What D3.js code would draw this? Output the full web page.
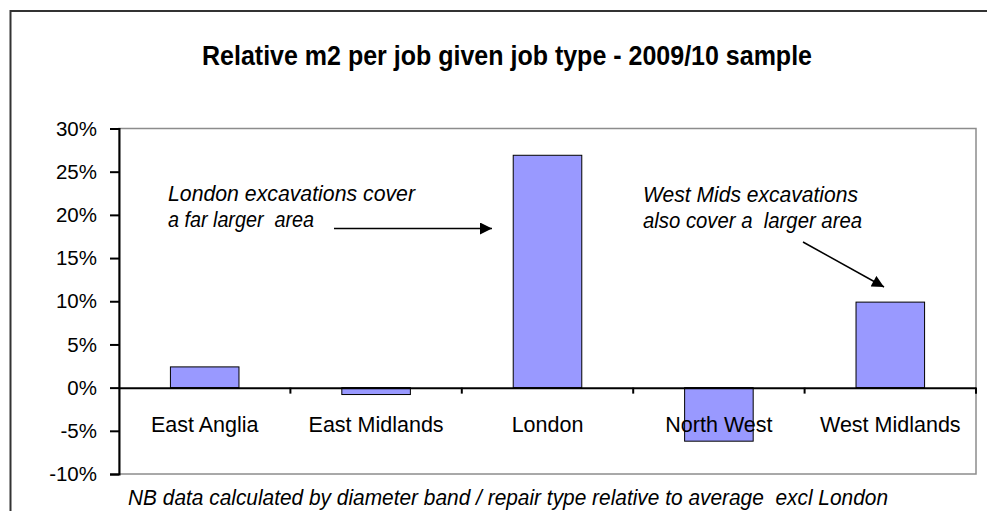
<!DOCTYPE html>
<html>
<head>
<meta charset="utf-8">
<script src="https://cdn.jsdelivr.net/npm/d3@7"></script>
<style>
  html, body { margin: 0; padding: 0; background: #fff; }
  svg { display: block; font-family: "Liberation Sans", Arial, sans-serif; }
</style>
</head>
<body>
<svg id="chart" width="987" height="511"></svg>
<script>
// Regions and their relative m2 per job (percent)
const regions = ["East Anglia", "East Midlands", "London", "North West", "West Midlands"];
const relativeM2 = [2.4, -0.8, 26.9, -6.2, 9.9];
const yTicks = [-10, -5, 0, 5, 10, 15, 20, 25, 30];

const title = "Relative m2 per job given job type - 2009/10 sample";
const footnote = "NB data calculated by diameter band / repair type relative to average  excl London";
const noteLondon = ["London excavations cover", "a far larger  area"];
const noteWestMids = ["West Mids excavations", "also cover a  larger area"];

const FONT = "Liberation Sans, Arial, sans-serif";
const svg = d3.select("#chart");

// outer chart frame (continues past the page edges)
svg.append("path")
  .attr("d", "M10.5,520 L10.5,11 L1000,11")
  .attr("fill", "none")
  .attr("stroke", "#333")
  .attr("stroke-width", 2);

const plot = { left: 119, right: 976, top: 128.5, bottom: 474 };

const x = d3.scaleBand().domain(regions).range([plot.left, plot.right]).paddingInner(0.6).paddingOuter(0.3);
const xBand = d3.scaleBand().domain(regions).range([plot.left, plot.right]);
const y = d3.scaleLinear().domain([-10, 30]).range([plot.bottom, plot.top]);

// plot area outline
svg.append("rect")
  .attr("x", plot.left).attr("y", plot.top)
  .attr("width", plot.right - plot.left).attr("height", plot.bottom - plot.top)
  .attr("fill", "none").attr("stroke", "#8c8c8c").attr("stroke-width", 1.5);

// title
svg.append("text")
  .attr("x", 507).attr("y", 64.5)
  .attr("text-anchor", "middle")
  .attr("font-size", 27).attr("font-weight", "bold")
  .attr("textLength", 610).attr("lengthAdjust", "spacingAndGlyphs")
  .text(title);

// bars
svg.append("g").selectAll("rect")
  .data(regions.map((r, i) => ({ r, v: relativeM2[i] })))
  .join("rect")
  .attr("x", d => x(d.r))
  .attr("width", x.bandwidth())
  .attr("y", d => y(Math.max(0, d.v)))
  .attr("height", d => Math.abs(y(d.v) - y(0)))
  .attr("fill", "#9999ff")
  .attr("stroke", "#000")
  .attr("stroke-width", 1);

// y axis
const yAxis = svg.append("g")
  .attr("transform", `translate(${plot.left},0)`)
  .call(d3.axisLeft(y).tickValues(yTicks).tickFormat(d => d + "%").tickSize(9).tickPadding(13));
yAxis.select(".domain").attr("stroke", "#000").attr("stroke-width", 2);
yAxis.selectAll(".tick line").attr("stroke", "#000").attr("stroke-width", 2);
yAxis.selectAll(".tick text").attr("font-size", 20.5).attr("fill", "#000")
  .attr("font-family", FONT);

// zero line with category boundary ticks
const zeroAxis = svg.append("g")
  .attr("transform", `translate(0,${y(0)})`)
  .call(d3.axisBottom(xBand).tickSize(0).tickFormat(""));
zeroAxis.select(".domain").attr("stroke", "#000").attr("stroke-width", 2);
zeroAxis.selectAll(".tick").remove();
zeroAxis.selectAll(".boundary")
  .data(regions.slice(1).concat(["end"]))
  .join("line")
  .attr("x1", (d, i) => plot.left + xBand.step() * (i + 1))
  .attr("x2", (d, i) => plot.left + xBand.step() * (i + 1))
  .attr("y1", 0).attr("y2", 6)
  .attr("stroke", "#000").attr("stroke-width", 2);

// category labels
svg.append("g").selectAll("text")
  .data(regions)
  .join("text")
  .attr("x", d => xBand(d) + xBand.bandwidth() / 2)
  .attr("y", 432)
  .attr("text-anchor", "middle")
  .attr("font-size", 21.5)
  .text(d => d);

// annotations
svg.append("defs").append("marker")
  .attr("id", "arrowhead")
  .attr("viewBox", "0 0 10 10")
  .attr("refX", 10).attr("refY", 5)
  .attr("markerWidth", 13).attr("markerHeight", 12)
  .attr("markerUnits", "userSpaceOnUse")
  .attr("orient", "auto")
  .append("path").attr("d", "M0,0 L10,5 L0,10 Z").attr("fill", "#000");

const notes = svg.append("g").attr("font-style", "italic").attr("font-size", 21.5);
const londonWidths = [247, 146];
const wmWidths = [215, 219];
notes.selectAll(".london")
  .data(noteLondon).join("text")
  .attr("class", "london")
  .attr("x", 168).attr("y", (d, i) => 201 + i * 26)
  .attr("xml:space", "preserve")
  .attr("textLength", (d, i) => londonWidths[i]).attr("lengthAdjust", "spacingAndGlyphs")
  .text(d => d);
notes.selectAll(".wm")
  .data(noteWestMids).join("text")
  .attr("class", "wm")
  .attr("x", 643).attr("y", (d, i) => 201.5 + i * 26.5)
  .attr("xml:space", "preserve")
  .attr("textLength", (d, i) => wmWidths[i]).attr("lengthAdjust", "spacingAndGlyphs")
  .text(d => d);

svg.append("line")
  .attr("x1", 334).attr("y1", 228.5).attr("x2", 492).attr("y2", 228.5)
  .attr("stroke", "#000").attr("stroke-width", 1.5)
  .attr("marker-end", "url(#arrowhead)");
svg.append("line")
  .attr("x1", 803).attr("y1", 242).attr("x2", 884).attr("y2", 287)
  .attr("stroke", "#000").attr("stroke-width", 1.5)
  .attr("marker-end", "url(#arrowhead)");

// footnote
svg.append("text")
  .attr("x", 128).attr("y", 505)
  .attr("font-style", "italic").attr("font-size", 21.5)
  .attr("xml:space", "preserve")
  .attr("textLength", 760).attr("lengthAdjust", "spacingAndGlyphs")
  .text(footnote);
</script>
</body>
</html>
